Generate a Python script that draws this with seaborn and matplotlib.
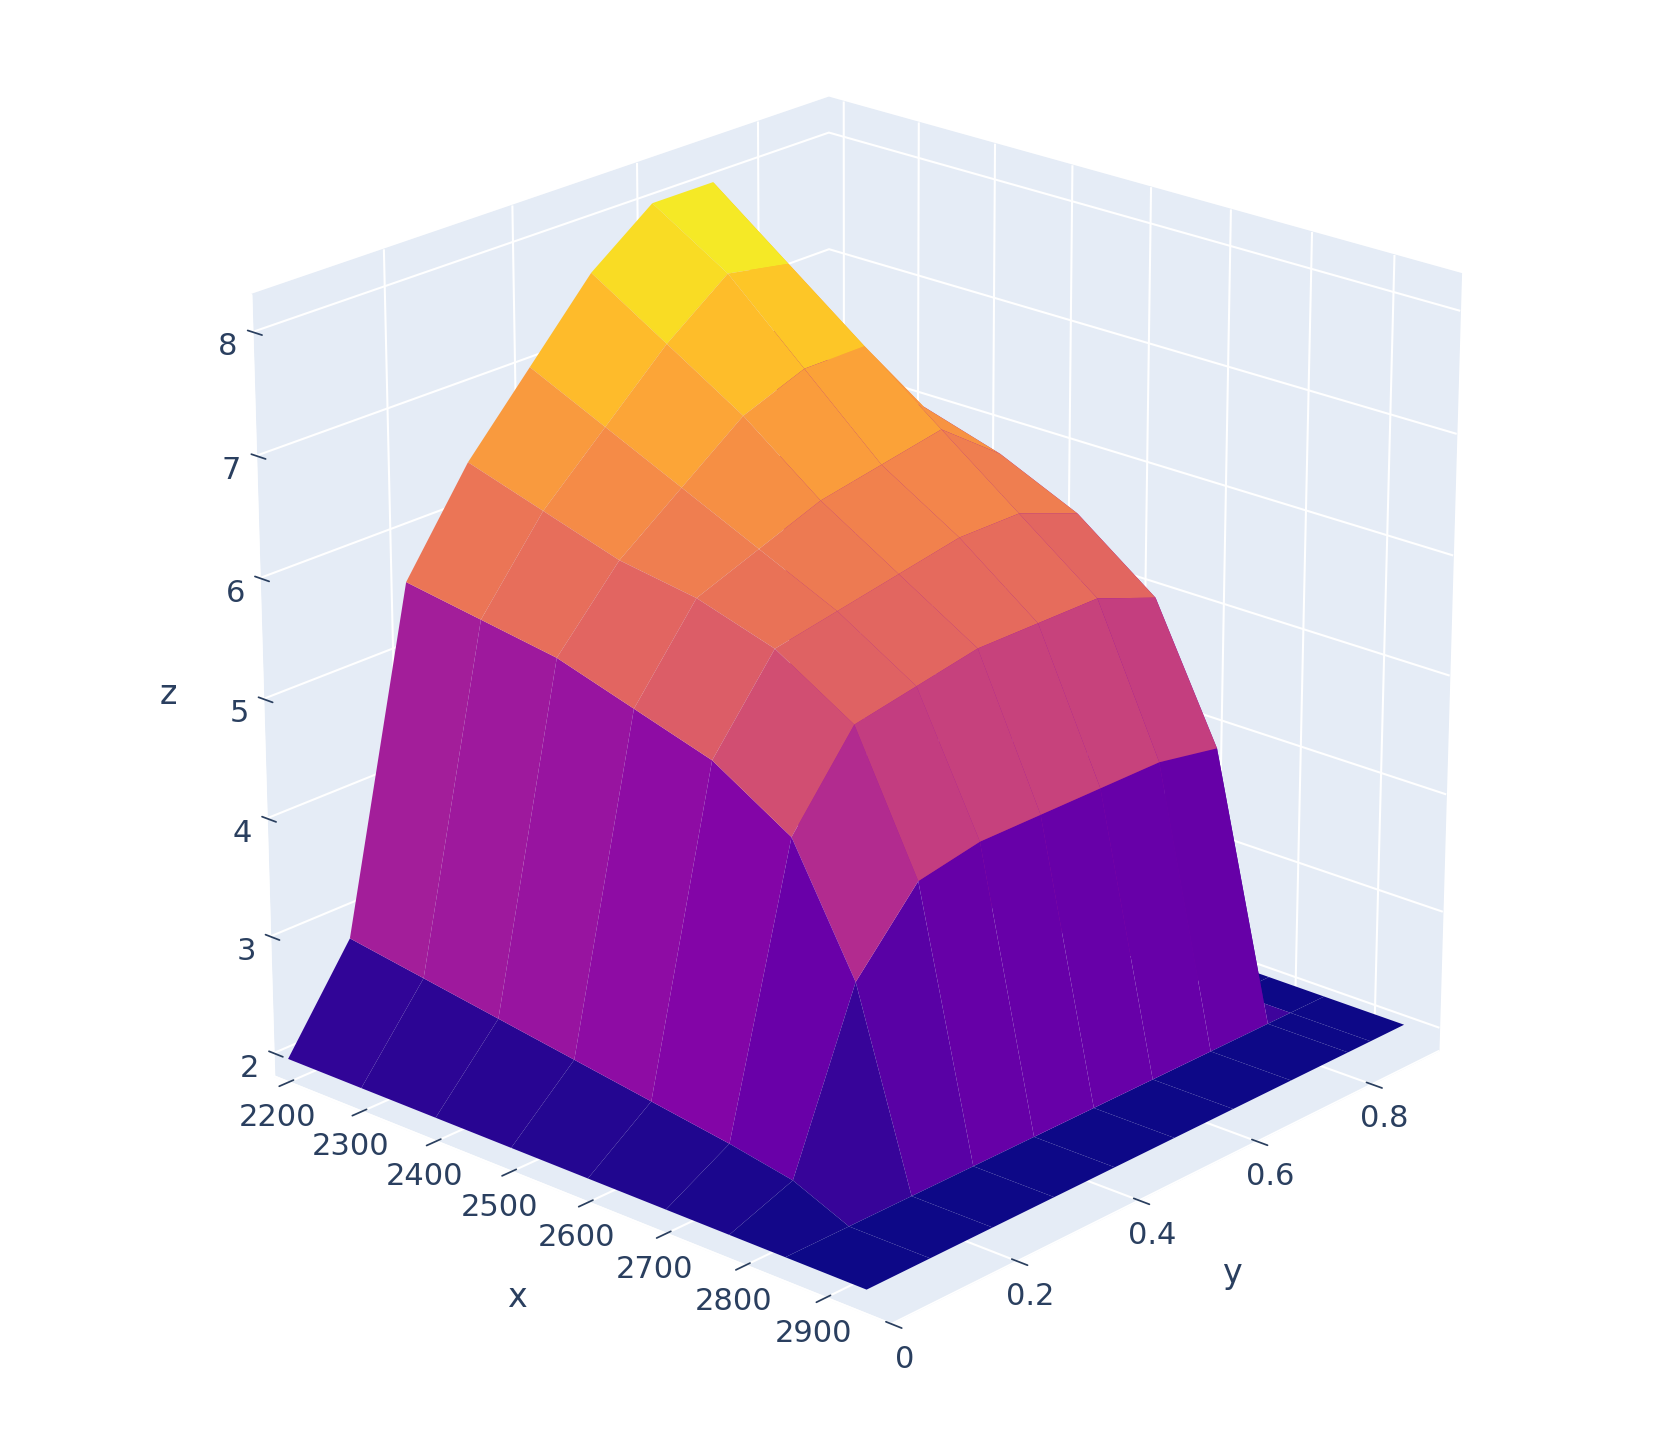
import matplotlib
matplotlib.use("Agg")
import matplotlib.pyplot as plt
import numpy as np
import seaborn as sns

# grid values
x_vals = [2200, 2300, 2400, 2500, 2600, 2700, 2780, 2850, 2950]
y_vals = [0.0, 0.1, 0.2, 0.3, 0.4, 0.5, 0.6, 0.7, 0.8, 0.84, 0.9]
z_rows = [
    [2, 2.8, 5.6, 6.4, 7.0, 7.6, 8.0, 8.0, 6.6, 2, 2],
    [2, 2.7, 5.5, 6.2, 6.7, 7.2, 7.6, 7.5, 6.4, 2, 2],
    [2, 2.6, 5.4, 6.0, 6.4, 6.8, 7.0, 7.0, 6.3, 2, 2],
    [2, 2.5, 5.2, 5.9, 6.1, 6.3, 6.4, 6.5, 6.1, 2, 2],
    [2, 2.4, 5.0, 5.7, 5.8, 5.9, 6.0, 6.0, 5.8, 2, 2],
    [2, 2.3, 4.6, 5.3, 5.4, 5.5, 5.5, 5.5, 5.3, 2, 2],
    [2, 2.2, 3.6, 4.2, 4.3, 4.3, 4.3, 4.3, 4.2, 2, 2],
    [2, 2.0, 2.0, 2.0, 2.0, 2.0, 2.0, 2.0, 2.0, 2, 2],
    [2, 2.0, 2.0, 2.0, 2.0, 2.0, 2.0, 2.0, 2.0, 2, 2],
]
z_ticks = [2, 3, 4, 5, 6, 7, 8]
x_ticks = [2200, 2300, 2400, 2500, 2600, 2700, 2800, 2900]
y_ticks = [0, 0.2, 0.4, 0.6, 0.8]

sns.set_theme(style="white")
text_col = "#2a3f5f"
pane = (0.898, 0.925, 0.965, 1.0)

X, Y = np.meshgrid(x_vals, y_vals, indexing="ij")
Z = np.array(z_rows, dtype=float)

fig = plt.figure(figsize=(16.76, 14.47), dpi=100)
ax = fig.add_axes([-0.02, -0.01, 1.04, 1.05], projection="3d")
ax.plot_surface(X, Y, Z, cmap="plasma", vmin=2, vmax=8,
                rstride=1, cstride=1, linewidth=0, antialiased=True, shade=False)

ax.view_init(elev=22, azim=-48)
ax.set_xlim(2180, 2980)
ax.set_ylim(0, 0.92)
ax.set_zlim(1.8, 8.3)
ax.set_xticks(x_ticks)
ax.set_yticks(y_ticks)
ax.set_zticks(z_ticks)
ax.set_yticklabels(["0", "0.2", "0.4", "0.6", "0.8"])
ax.zaxis._axinfo["juggled"] = (1, 2, 0)
for axis in (ax.xaxis, ax.yaxis, ax.zaxis):
    axis.set_pane_color(pane)
    axis._axinfo["grid"]["color"] = "white"
    axis._axinfo["grid"]["linewidth"] = 1.5
    axis.line.set_color("white")
ax.tick_params(labelsize=22, colors=text_col)
ax.set_xlabel("x", fontsize=24, color=text_col, labelpad=34)
ax.set_ylabel("y", fontsize=24, color=text_col, labelpad=30)
ax.set_zlabel("z", fontsize=24, color=text_col, labelpad=24)
ax.set_box_aspect((1, 1, 1), zoom=0.93)

fig.savefig("out.png", dpi=100, facecolor="white")
